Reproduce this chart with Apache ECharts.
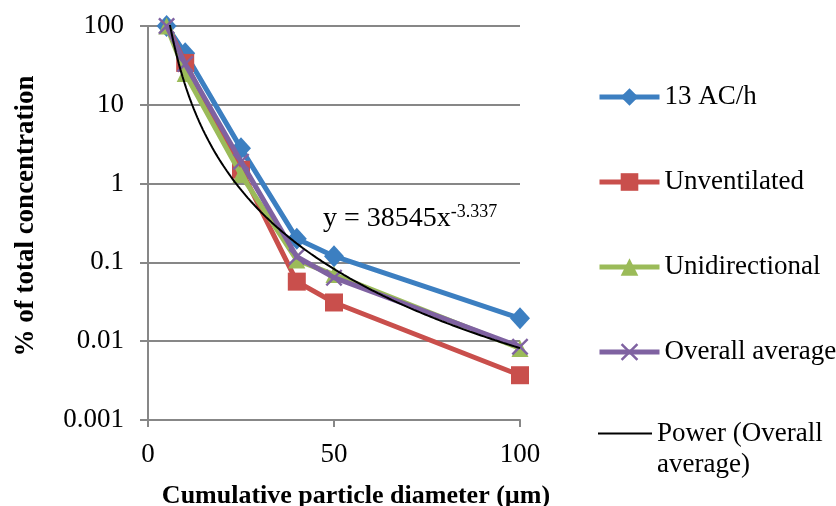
<!DOCTYPE html>
<html>
<head>
<meta charset="utf-8">
<script src="https://cdn.jsdelivr.net/npm/echarts@6/dist/echarts.min.js"></script>
<style>
  html, body { margin: 0; padding: 0; background: #fff; }
  #chart { width: 836px; height: 506px; }
</style>
</head>
<body>
<div id="chart"></div>
<script>
// ---- data ----
var diameters = [5, 10, 25, 40, 50, 100];
var seriesNames = ['13 AC/h', 'Unventilated', 'Unidirectional', 'Overall average'];
var acH13 = [100, 45, 2.8, 0.2, 0.12, 0.0195];
var unventilated = [105, 34, 1.5, 0.057, 0.031, 0.0037];
var unidirectional = [100, 25, 1.3, 0.107, 0.07, 0.0081];
var overallAverage = [100, 33, 1.9, 0.118, 0.064, 0.0085];
var yTicks = [0.001, 0.01, 0.1, 1, 10, 100];
var xTicks = [0, 50, 100];
// power trendline shown on the chart: y = 38545 x^-3.337
var trendName = 'Power (Overall average)';
var trendCoef = 38545;
var trendExp = -3.337;

var FONT = '"Liberation Serif", "Times New Roman", serif';
var colors = ['#3C7FC1', '#C94F4C', '#9BBB59', '#7F62A1'];
var symbols = ['diamond', 'rect', 'triangle',
  'path://M0,1L1,0L5,4L9,0L10,1L6,5L10,9L9,10L5,6L1,10L0,9L4,5Z'];
var symbolSizes = [[20, 22], 18, 17, 17];

function pairs(vals) {
  return diameters.map(function (d, i) { return [d, vals[i]]; });
}
var trendData = [];
for (var x = diameters[0]; x <= diameters[diameters.length - 1] + 1e-9; x += 0.25) {
  trendData.push([x, trendCoef * Math.pow(x, trendExp)]);
}

var allVals = [acH13, unventilated, unidirectional, overallAverage];
var series = allVals.map(function (vals, i) {
  return {
    name: seriesNames[i],
    type: 'line',
    data: pairs(vals),
    symbol: symbols[i],
    symbolSize: symbolSizes[i],
    lineStyle: { color: colors[i], width: 5 },
    itemStyle: { color: colors[i] },
    clip: true,
    z: 2 + i
  };
});
series.push({
  name: trendName,
  type: 'line',
  data: trendData,
  symbol: 'none',
  showSymbol: false,
  lineStyle: { color: '#000', width: 2 },
  itemStyle: { color: '#000' },
  clip: true,
  z: 10
});

var chart = echarts.init(document.getElementById('chart'), null, { renderer: 'canvas' });
chart.setOption({
  animation: false,
  backgroundColor: '#fff',
  grid: { left: 148, top: 26, right: 316, bottom: 86, containLabel: false, outerBoundsMode: 'none' },
  xAxis: {
    type: 'value',
    min: xTicks[0],
    max: xTicks[xTicks.length - 1],
    interval: 50,
    name: 'Cumulative particle diameter (µm)',
    nameLocation: 'middle',
    nameGap: 63,
    nameTextStyle: { fontFamily: FONT, fontSize: 26, fontWeight: 'bold', color: '#000', padding: [0, 0, 0, 44] },
    axisLine: { lineStyle: { color: '#878787', width: 2 } },
    axisTick: { show: true, length: 7, lineStyle: { color: '#878787', width: 2 } },
    axisLabel: { fontFamily: FONT, fontSize: 27, color: '#000', margin: 21 },
    splitLine: { show: false }
  },
  yAxis: {
    type: 'log',
    logBase: 10,
    min: yTicks[0],
    max: yTicks[yTicks.length - 1],
    name: '% of total concentration',
    nameLocation: 'middle',
    nameRotate: 90,
    nameGap: 108,
    nameTextStyle: { fontFamily: FONT, fontSize: 27, fontWeight: 'bold', color: '#000', padding: [0, 0, 0, 14] },
    axisLine: { show: true, lineStyle: { color: '#878787', width: 2 } },
    axisTick: { show: true, length: 8, lineStyle: { color: '#878787', width: 2 } },
    axisLabel: {
      fontFamily: FONT, fontSize: 27, color: '#000', margin: 24,
      formatter: function (v) { return String(+v.toPrecision(6)); }
    },
    splitLine: { show: true, lineStyle: { color: '#878787', width: 2 } },
    minorTick: { show: false },
    minorSplitLine: { show: false }
  },
  legend: [{
    data: seriesNames,
    orient: 'vertical',
    left: 592,
    top: 77,
    itemWidth: 60,
    itemHeight: 22,
    itemGap: 55,
    lineStyle: { width: 5 },
    textStyle: { fontFamily: FONT, fontSize: 27, color: '#000', lineHeight: 30 }
  }, {
    data: [{ name: trendName, icon: 'rect' }],
    orient: 'vertical',
    left: 593,
    top: 382,
    itemWidth: 54,
    itemHeight: 2,
    itemStyle: { color: '#000' },
    formatter: function () { return ' \nPower (Overall\naverage)'; },
    textStyle: { fontFamily: FONT, fontSize: 27, color: '#000', lineHeight: 31 }
  }],
  graphic: [{
    type: 'text',
    left: 323,
    top: 203,
    silent: true,
    style: {
      text: '{a|y = 38545x}{b|-3.337}',
      rich: {
        a: { fontFamily: FONT, fontSize: 28, fill: '#000', lineHeight: 32 },
        b: { fontFamily: FONT, fontSize: 18, fill: '#000', lineHeight: 20, verticalAlign: 'top' }
      }
    }
  }],
  series: series
});
</script>
</body>
</html>
